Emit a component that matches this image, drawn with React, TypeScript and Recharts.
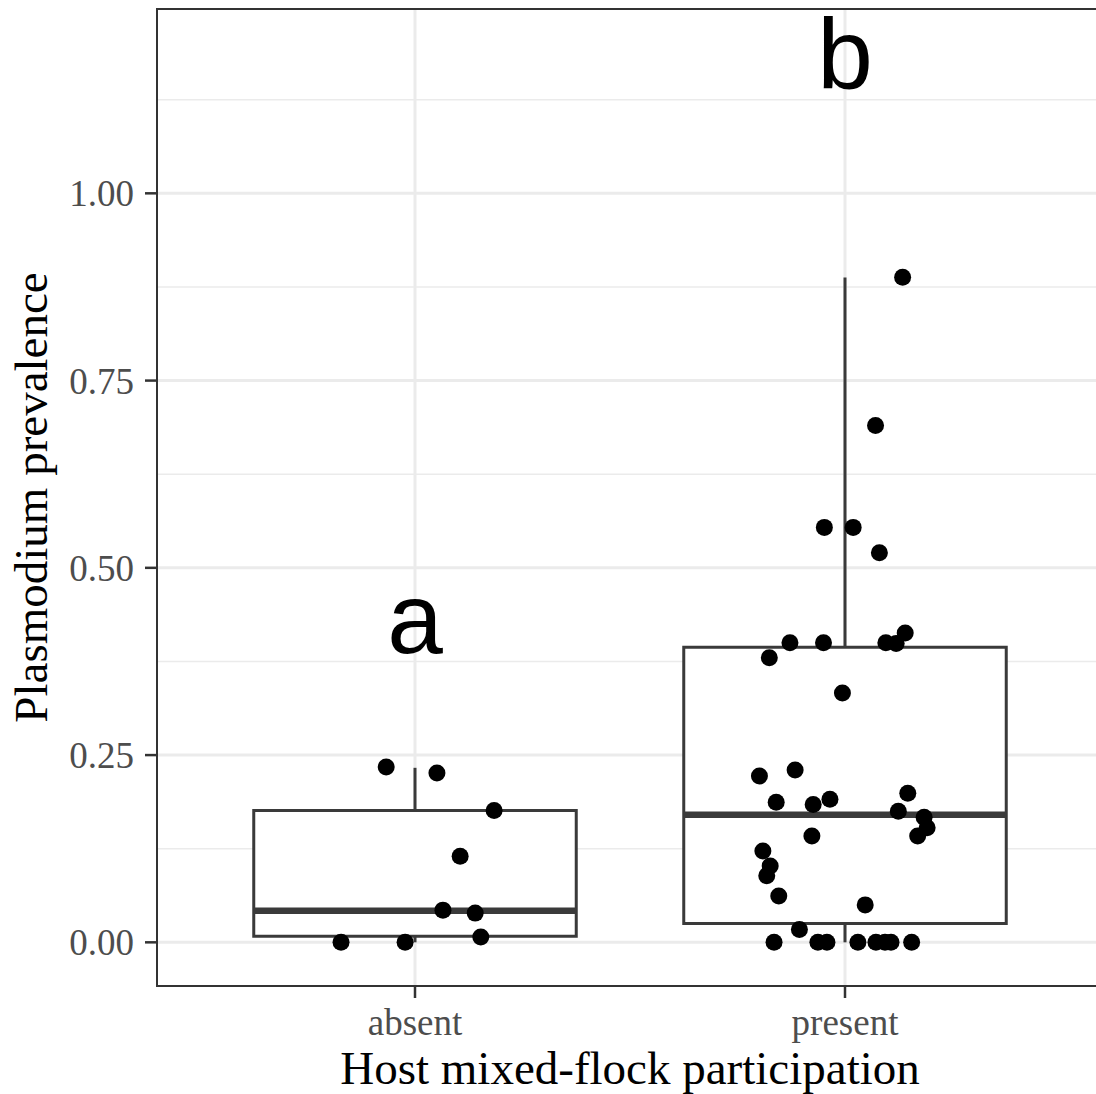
import React from 'react';
import {
  ComposedChart,
  XAxis,
  YAxis,
  Scatter,
  CartesianGrid,
  ReferenceArea,
  ReferenceLine,
} from 'recharts';

// ---- data ----
const categories = ['absent', 'present'];

// box statistics: [min, q1, median, q3, max] per category
const boxMin = [0, 0];
const boxQ1 = [0.008, 0.025];
const boxMedian = [0.042, 0.1705];
const boxQ3 = [0.176, 0.394];
const boxMax = [0.233, 0.8875];

// jittered points (x offset from category centre, in category units)
const absentJitter = [-0.067, 0.051, 0.184, 0.105, 0.065, 0.14, 0.153, -0.172, -0.023];
const absentValues = [0.234, 0.226, 0.176, 0.115, 0.043, 0.039, 0.007, 0, 0];

const presentJitter = [
  0.134, 0.071, -0.048, 0.019, 0.08, -0.128, -0.05, -0.176, 0.095, 0.119, 0.14, -0.006,
  -0.199, -0.116, -0.16, -0.074, -0.035, 0.146, 0.124, 0.184, 0.191, 0.169, -0.077, -0.191,
  -0.174, -0.182, -0.154, 0.047, -0.106, -0.165, -0.063, -0.042, 0.03, 0.072, 0.093, 0.107,
  0.155,
];
const presentValues = [
  0.888, 0.69, 0.554, 0.554, 0.52, 0.4, 0.4, 0.38, 0.4, 0.399, 0.413, 0.333,
  0.222, 0.23, 0.187, 0.184, 0.191, 0.199, 0.175, 0.167, 0.153, 0.142, 0.142, 0.122,
  0.102, 0.089, 0.062, 0.05, 0.017, 0, 0, 0, 0, 0, 0, 0,
  0,
];

const letterLabels = ['a', 'b'];
const letterY = [0.386, 1.139];

const yTicks = [0, 0.25, 0.5, 0.75, 1];
const yMinor = [0.125, 0.375, 0.625, 0.875, 1.125];
const yDomain: [number, number] = [-0.0583, 1.2461];
const xDomain: [number, number] = [0.4, 2.6];
const boxHalfWidth = 0.375;

// ---- derived tables ----
const pointsData = [
  ...absentValues.map((v, i) => ({ x: 1 + absentJitter[i], y: v })),
  ...presentValues.map((v, i) => ({ x: 2 + presentJitter[i], y: v })),
];
const letterData = letterLabels.map((l, i) => ({ x: i + 1, y: letterY[i], label: l }));

const BOX_COLOR = '#3a3a3a';
const SERIF = '"Liberation Serif", "Times New Roman", serif';

const Dot = (props: any) => {
  const { cx, cy } = props;
  if (cx == null || cy == null) return null;
  return <circle cx={cx} cy={cy} r={8.5} fill="#000" />;
};

const Letter = (props: any) => {
  const { cx, cy, payload } = props;
  if (cx == null || cy == null) return null;
  return (
    <text
      x={cx}
      y={cy}
      textAnchor="middle"
      fontSize={100}
      fontFamily='"Liberation Sans", Arial, sans-serif'
      fill="#000"
    >
      {payload.label}
    </text>
  );
};

export default function App() {
  return (
    <div
      style={{
        position: 'absolute',
        left: 0,
        top: 0,
        width: 1096,
        height: 1094,
        overflow: 'hidden',
        background: '#fff',
      }}
    >
      <ComposedChart width={1110} height={1094} margin={{ top: 9, right: 7, bottom: 0, left: 0 }}>
        <CartesianGrid
          stroke="#ebebeb"
          strokeWidth={1.5}
          horizontalValues={yMinor}
          vertical={false}
        />
        <CartesianGrid
          stroke="#ebebeb"
          strokeWidth={3}
          horizontalValues={yTicks}
          verticalValues={[1, 2]}
        />
        <XAxis
          type="number"
          dataKey="x"
          domain={xDomain}
          allowDataOverflow
          ticks={[1, 2]}
          tickFormatter={(v: number) => categories[Math.round(v) - 1]}
          height={108}
          axisLine={false}
          tickSize={12}
          tickMargin={11}
          tickLine={{ stroke: '#333', strokeWidth: 2.5 }}
          tick={{ fill: '#4d4d4d', fontSize: 37, fontFamily: SERIF }}
          label={{
            content: (p: any) => {
              const vb = p.viewBox;
              return (
                <text
                  x={vb.x + vb.width / 2}
                  y={1084}
                  textAnchor="middle"
                  fontSize={47}
                  fontFamily={SERIF}
                  fill="#000"
                >
                  Host mixed-flock participation
                </text>
              );
            },
          }}
        />
        <YAxis
          type="number"
          domain={yDomain}
          allowDataOverflow
          ticks={yTicks}
          tickFormatter={(v: number) => v.toFixed(2)}
          width={157}
          axisLine={false}
          tickSize={12}
          tickMargin={11}
          tickLine={{ stroke: '#333', strokeWidth: 2.5 }}
          tick={{ fill: '#4d4d4d', fontSize: 37, fontFamily: SERIF }}
          label={{
            content: (p: any) => {
              const vb = p.viewBox;
              const cy = vb.y + vb.height / 2;
              return (
                <text
                  x={47}
                  y={cy}
                  transform={`rotate(-90, 47, ${cy})`}
                  textAnchor="middle"
                  fontSize={47}
                  fontFamily={SERIF}
                  fill="#000"
                >
                  Plasmodium prevalence
                </text>
              );
            },
          }}
        />

        {categories.map((c, i) => (
          <ReferenceLine
            key={`wu-${c}`}
            segment={[
              { x: i + 1, y: boxQ3[i] },
              { x: i + 1, y: boxMax[i] },
            ]}
            stroke={BOX_COLOR}
            strokeWidth={3}
          />
        ))}
        {categories.map((c, i) => (
          <ReferenceLine
            key={`wl-${c}`}
            segment={[
              { x: i + 1, y: boxMin[i] },
              { x: i + 1, y: boxQ1[i] },
            ]}
            stroke={BOX_COLOR}
            strokeWidth={3}
          />
        ))}
        {categories.map((c, i) => (
          <ReferenceArea
            key={`box-${c}`}
            x1={i + 1 - boxHalfWidth}
            x2={i + 1 + boxHalfWidth}
            y1={boxQ1[i]}
            y2={boxQ3[i]}
            fill="#fff"
            fillOpacity={1}
            stroke={BOX_COLOR}
            strokeWidth={3}
          />
        ))}
        {categories.map((c, i) => (
          <ReferenceLine
            key={`med-${c}`}
            segment={[
              { x: i + 1 - boxHalfWidth, y: boxMedian[i] },
              { x: i + 1 + boxHalfWidth, y: boxMedian[i] },
            ]}
            stroke={BOX_COLOR}
            strokeWidth={6.5}
          />
        ))}

        <ReferenceArea
          x1={xDomain[0]}
          x2={xDomain[1]}
          y1={yDomain[0]}
          y2={yDomain[1]}
          fill="none"
          stroke="#333"
          strokeWidth={2}
        />

        <Scatter data={pointsData} dataKey="y" shape={<Dot />} isAnimationActive={false} />
        <Scatter data={letterData} dataKey="y" shape={<Letter />} isAnimationActive={false} />
      </ComposedChart>
    </div>
  );
}
